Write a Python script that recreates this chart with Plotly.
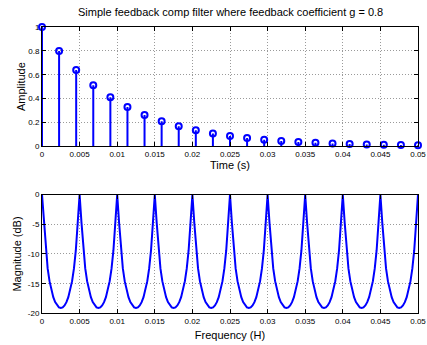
import plotly.graph_objects as go
from plotly.subplots import make_subplots

# ---- data ----
time_s = [0, 0.002273, 0.004545, 0.006818, 0.009091, 0.011364, 0.013636, 0.015909,
          0.018182, 0.020455, 0.022727, 0.025, 0.027273, 0.029545, 0.031818, 0.034091,
          0.036364, 0.038636, 0.040909, 0.043182, 0.045455, 0.047727, 0.05]
amplitude = [1.0, 0.8, 0.64, 0.512, 0.41, 0.328, 0.262, 0.21, 0.168, 0.134, 0.107, 0.086,
             0.069, 0.055, 0.044, 0.035, 0.028, 0.023, 0.018, 0.014, 0.012, 0.009, 0.007]

freq_start = 0.0
freq_step = 0.00025
magnitude_db = [
    0, -4.71, -9.36, -12.43, -14.57, -16.13, -17.27, -18.10, -18.65, -18.98, -19.08, -18.98, -18.65, -18.10, -17.27, -16.13, -14.57, -12.43, -9.36, -4.71,
    0, -4.71, -9.36, -12.43, -14.57, -16.13, -17.27, -18.10, -18.65, -18.98, -19.08, -18.98, -18.65, -18.10, -17.27, -16.13, -14.57, -12.43, -9.36, -4.71,
    0, -4.71, -9.36, -12.43, -14.57, -16.13, -17.27, -18.10, -18.65, -18.98, -19.08, -18.98, -18.65, -18.10, -17.27, -16.13, -14.57, -12.43, -9.36, -4.71,
    0, -4.71, -9.36, -12.43, -14.57, -16.13, -17.27, -18.10, -18.65, -18.98, -19.08, -18.98, -18.65, -18.10, -17.27, -16.13, -14.57, -12.43, -9.36, -4.71,
    0, -4.71, -9.36, -12.43, -14.57, -16.13, -17.27, -18.10, -18.65, -18.98, -19.08, -18.98, -18.65, -18.10, -17.27, -16.13, -14.57, -12.43, -9.36, -4.71,
    0, -4.71, -9.36, -12.43, -14.57, -16.13, -17.27, -18.10, -18.65, -18.98, -19.08, -18.98, -18.65, -18.10, -17.27, -16.13, -14.57, -12.43, -9.36, -4.71,
    0, -4.71, -9.36, -12.43, -14.57, -16.13, -17.27, -18.10, -18.65, -18.98, -19.08, -18.98, -18.65, -18.10, -17.27, -16.13, -14.57, -12.43, -9.36, -4.71,
    0, -4.71, -9.36, -12.43, -14.57, -16.13, -17.27, -18.10, -18.65, -18.98, -19.08, -18.98, -18.65, -18.10, -17.27, -16.13, -14.57, -12.43, -9.36, -4.71,
    0, -4.71, -9.36, -12.43, -14.57, -16.13, -17.27, -18.10, -18.65, -18.98, -19.08, -18.98, -18.65, -18.10, -17.27, -16.13, -14.57, -12.43, -9.36, -4.71,
    0, -4.71, -9.36, -12.43, -14.57, -16.13, -17.27, -18.10, -18.65, -18.98, -19.08, -18.98, -18.65, -18.10, -17.27, -16.13, -14.57, -12.43, -9.36, -4.71,
    0,
]

x_tick_vals = [0, 0.005, 0.01, 0.015, 0.02, 0.025, 0.03, 0.035, 0.04, 0.045, 0.05]
x_tick_text = ["0", "0.005", "0.01", "0.015", "0.02", "0.025", "0.03", "0.035", "0.04", "0.045", "0.05"]
amp_tick_vals = [0, 0.2, 0.4, 0.6, 0.8, 1]
amp_tick_text = ["0", "0.2", "0.4", "0.6", "0.8", "1"]
db_tick_vals = [-20, -15, -10, -5, 0]
db_tick_text = ["-20", "-15", "-10", "-5", "0"]

title_text = "Simple feedback comp filter where feedback coefficient g = 0.8"

# ---- figure ----
BLUE = "#0000ff"
FONT = "Liberation Sans, Arial, sans-serif"

fig = make_subplots(rows=2, cols=1)

stem_x, stem_y = [], []
for t, a in zip(time_s, amplitude):
    stem_x += [t, t, None]
    stem_y += [0, a, None]

fig.add_trace(go.Scatter(x=stem_x, y=stem_y, mode="lines",
                         line=dict(color=BLUE, width=2), showlegend=False,
                         hoverinfo="skip", cliponaxis=False), row=1, col=1)
fig.add_trace(go.Scatter(x=time_s, y=amplitude, mode="markers",
                         marker=dict(symbol="circle-open", size=6, color=BLUE,
                                     line=dict(width=2, color=BLUE)),
                         showlegend=False, cliponaxis=False), row=1, col=1)

fig.add_trace(go.Scatter(x0=freq_start, dx=freq_step, y=magnitude_db, mode="lines",
                         line=dict(color=BLUE, width=2), showlegend=False,
                         cliponaxis=False), row=2, col=1)

axis_common = dict(showline=True, linecolor="black", linewidth=1, mirror="ticks",
                   ticks="inside", ticklen=4, tickcolor="black",
                   showgrid=True, gridcolor="#9a9a9a", griddash="1px,2px", gridwidth=1,
                   zeroline=False, tickfont=dict(size=8, color="black", family=FONT))

fig.update_xaxes(**axis_common, range=[0, 0.05], tickvals=x_tick_vals, ticktext=x_tick_text)
fig.update_xaxes(row=1, col=1, domain=[0, 1],
                 title=dict(text="Time (s)", font=dict(size=11, color="black", family=FONT), standoff=1))
fig.update_xaxes(row=2, col=1, domain=[0, 1],
                 title=dict(text="Frequency (H)", font=dict(size=11, color="black", family=FONT), standoff=6))

fig.update_yaxes(**axis_common)
fig.update_yaxes(row=1, col=1, range=[0, 1], domain=[0.5768, 0.9313],
                 tickvals=amp_tick_vals, ticktext=amp_tick_text,
                 title=dict(text="Amplitude", font=dict(size=11, color="black", family=FONT), standoff=0))
fig.update_yaxes(row=2, col=1, range=[-20, 0], domain=[0.0791, 0.4328],
                 tickvals=db_tick_vals, ticktext=db_tick_text,
                 title=dict(text="Magnitude (dB)", font=dict(size=11, color="black", family=FONT), standoff=3))

fig.update_layout(
    width=427, height=345,
    margin=dict(l=42, r=9, t=0, b=0),
    paper_bgcolor="white", plot_bgcolor="white",
    font=dict(family=FONT, color="black"),
    title=dict(text=title_text, x=0.54, xanchor="center", y=0.965, yanchor="middle",
               font=dict(size=11, color="black", family=FONT)),
    showlegend=False,
)

fig.write_html("out.html")
